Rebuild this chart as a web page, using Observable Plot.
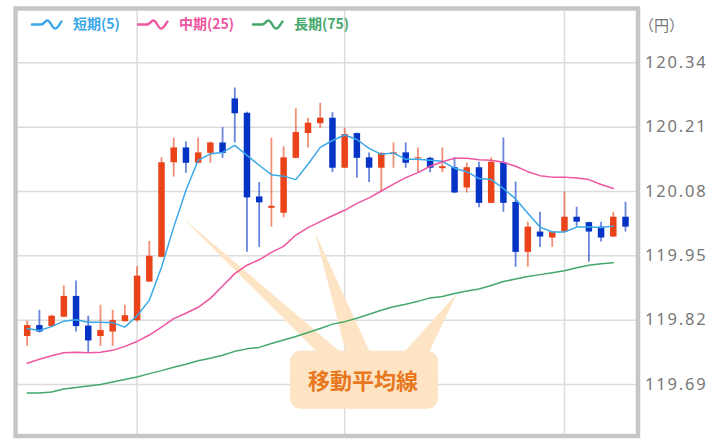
<!DOCTYPE html>
<html><head><meta charset="utf-8">
<script src="https://cdn.jsdelivr.net/npm/d3@7"></script>
<script src="https://cdn.jsdelivr.net/npm/@observablehq/plot@0.6"></script>
<style>
body{margin:0;background:#fff;}
#chart svg{background:#fff;}
g[aria-label="y-axis tick label"] text{letter-spacing:1.8px;fill:#777;font-size:16.5px;font-family:"Noto Sans",sans-serif;}
</style></head><body><div id="chart"></div>
<script>
// OHLC values (円), one per session
const opens  = [119.787,119.809,119.807,119.826,119.868,119.808,119.787,119.796,119.817,119.819,
                119.897,119.947,120.138,120.168,120.137,120.157,120.178,120.267,120.238,120.069,
                120.046,120.036,120.147,120.197,120.217,120.228,120.127,120.197,120.148,120.127,
                120.155,120.158,120.146,120.147,120.126,120.128,120.087,120.128,120.056,120.138,
                120.058,119.957,119.998,119.986,119.998,120.028,120.017,120.008,119.988,120.028];
const highs  = [119.818,119.840,119.830,119.889,119.899,119.828,119.850,119.840,119.850,119.928,
                119.979,120.148,120.188,120.180,120.188,120.180,120.209,120.289,120.240,120.098,
                120.188,120.170,120.247,120.228,120.258,120.239,120.208,120.198,120.158,120.158,
                120.178,120.178,120.168,120.149,120.168,120.148,120.137,120.139,120.148,120.188,
                120.099,120.018,120.038,119.999,120.079,120.048,120.018,120.018,120.038,120.058];
const lows   = [119.767,119.794,119.806,119.825,119.796,119.755,119.767,119.767,119.816,119.816,
                119.896,119.946,120.109,120.117,120.136,120.137,120.147,120.178,119.957,119.967,
                120.008,120.027,120.146,120.168,120.207,120.118,120.126,120.107,120.098,120.079,
                120.127,120.127,120.118,120.118,120.118,120.076,120.077,120.047,120.055,120.038,
                119.927,119.927,119.967,119.967,119.997,120.008,119.937,119.978,119.987,119.998];
const closes = [119.809,119.796,119.828,119.868,119.807,119.778,119.799,119.819,119.829,119.909,
                119.949,120.138,120.168,120.137,120.158,120.178,120.157,120.237,120.067,120.057,
                120.050,120.148,120.199,120.218,120.228,120.127,120.195,120.147,120.127,120.157,
                120.158,120.137,120.148,120.127,120.130,120.077,120.128,120.056,120.139,120.056,
                119.957,120.008,119.988,119.998,120.028,120.018,119.998,119.986,120.028,120.008];
// moving averages (sessions 0..48)
const maShort = [119.803,119.799,119.807,119.818,119.821,119.816,119.816,119.815,119.806,119.829,
                 119.860,119.927,120.008,120.082,120.143,120.156,120.159,120.173,120.153,120.133,
                 120.114,120.111,120.104,120.135,120.169,120.183,120.194,120.185,120.167,120.155,
                 120.158,120.145,120.145,120.143,120.141,120.127,120.120,120.106,120.104,120.086,
                 120.065,120.036,120.008,119.998,119.998,120.008,120.008,120.007,120.010];
const maMid   = [119.733,119.741,119.748,119.754,119.755,119.754,119.755,119.759,119.767,119.777,
                 119.790,119.806,119.823,119.834,119.846,119.864,119.889,119.914,119.931,119.942,
                 119.957,119.969,119.992,120.007,120.019,120.031,120.042,120.056,120.067,120.081,
                 120.095,120.108,120.118,120.131,120.140,120.147,120.147,120.144,120.143,120.139,
                 120.131,120.120,120.112,120.109,120.109,120.107,120.104,120.094,120.086];
const maLong  = [119.673,119.673,119.675,119.681,119.684,119.687,119.690,119.695,119.700,119.705,
                 119.712,119.718,119.725,119.731,119.738,119.743,119.749,119.757,119.762,119.765,
                 119.773,119.780,119.787,119.795,119.803,119.812,119.817,119.824,119.832,119.840,
                 119.847,119.852,119.858,119.865,119.868,119.874,119.879,119.883,119.890,119.898,
                 119.903,119.908,119.912,119.916,119.920,119.926,119.931,119.934,119.936];
const yTicks = [120.34,120.21,120.08,119.95,119.82,119.69];
const periodBreaks = [9,26,44];
const seriesNames = ["短期(5)","中期(25)","長期(75)"];
const seriesColors = ["#3aa8e8","#ee559f","#44a86b"];
const calloutText = "移動平均線";
const calloutBox = [21.56,33.69,119.640,119.757];
const calloutLabelAt = [27.5,119.695];
const spikeTips = [[12.72,120.027],[23.61,119.996],[35.24,119.873]];
const spikeBases = [[24.18,26.15],[26.23,28.28],[30.57,32.78]];
const spikeBaseY = 119.745;

const candles = opens.map((o,i)=>({i, o, h:highs[i], l:lows[i], c:closes[i], up: closes[i]>=opens[i]}));
const maRows = [];
[maShort,maMid,maLong].forEach((arr,k)=>arr.forEach((v,i)=>maRows.push({i,v,s:seriesNames[k]})));
const spikeRows = [];
spikeTips.forEach((t,k)=>{
  spikeRows.push({k, y: spikeBaseY, x1: spikeBases[k][0], x2: spikeBases[k][1]});
  spikeRows.push({k, y: t[1], x1: t[0], x2: t[0]});
});
const RED="#ea4219", BLUE="#0533c6", BUBBLE="#fde4c4";

const W=724,H=445;
const chart = Plot.plot({
  width: W, height: H,
  marginLeft: 15, marginRight: 86.5, marginTop: 8, marginBottom: 9.5,
  style: {fontFamily: '"Noto Sans","Noto Sans CJK JP",sans-serif', background:"#fff"},
  x: {type:"linear", domain:[0,49], range:[26.7,625], axis:null},
  y: {domain:[119.69,120.34], range:[384,62.3], axis:null},
  color: {domain: seriesNames, range: seriesColors},
  marks: [
    Plot.ruleY(yTicks, {stroke:"#dcdcdc", strokeWidth:1.5}),
    Plot.ruleX(periodBreaks, {stroke:"#dcdcdc", strokeWidth:1.5}),
    Plot.areaX(spikeRows, {y:"y", x1:"x1", x2:"x2", z:"k", fill:BUBBLE}),
    Plot.rect([calloutBox], {x1:d=>d[0], x2:d=>d[1], y1:d=>d[2], y2:d=>d[3], fill:BUBBLE, rx:11}),
    Plot.ruleX(candles, {x:"i", y1:"l", y2:"h", stroke:d=>d.up?RED:BLUE, strokeWidth:1.8, strokeOpacity:0.6}),
    Plot.ruleX(candles, {x:"i", y1:"o", y2:"c", stroke:d=>d.up?RED:BLUE, strokeWidth:6.5}),
    Plot.line(maRows, {x:"i", y:"v", z:"s", stroke:"s", strokeWidth:1.5}),
    Plot.text([calloutLabelAt], {x:d=>d[0], y:d=>d[1], text:()=>calloutText, fill:"#e8771d", fontSize:22, fontWeight:"bold", fontFamily:'"Noto Sans CJK JP",sans-serif'}),
    Plot.axisY(yTicks, {anchor:"right", tickSize:0, tickPadding:7, tickFormat:d=>d.toFixed(2), fontSize:16.5}),
    Plot.text(["（円）"], {frameAnchor:"top-right", dx:1, dy:12, textAnchor:"start", fontSize:15, fill:"#777", fontFamily:'"Noto Sans CJK JP",sans-serif'}),
    Plot.frame({stroke:"#c6c6c6", strokeWidth:4.5})
  ]
});
document.getElementById("chart").appendChild(chart);

// legend inside the frame
const svg = d3.select(chart);
const lg = svg.append("g").attr("aria-label","legend").attr("text-anchor","start");
const legendX = [32,138,253];
seriesNames.forEach((name,k)=>{
  const x0 = legendX[k], y0 = 24.5;
  lg.append("path")
    .attr("d", `M${x0},${y0} L${x0+9},${y0} C${x0+12},${y0} ${x0+13},${y0-4} ${x0+15.5},${y0-4} C${x0+18.5},${y0-4} ${x0+20},${y0+4} ${x0+23},${y0+4} C${x0+26},${y0+4} ${x0+27.5},${y0-1} ${x0+29.5},${y0-3}`)
    .attr("fill","none").attr("stroke",seriesColors[k]).attr("stroke-width",2.4).attr("stroke-linecap","round");
  lg.append("text").attr("x",x0+41).attr("y",y0+0.5).attr("dominant-baseline","middle")
    .attr("text-anchor","start")
    .attr("fill",seriesColors[k]).attr("font-size",14).attr("font-weight","bold")
    .attr("font-family",'"Noto Sans CJK JP",sans-serif').text(name);
});
</script></body></html>
